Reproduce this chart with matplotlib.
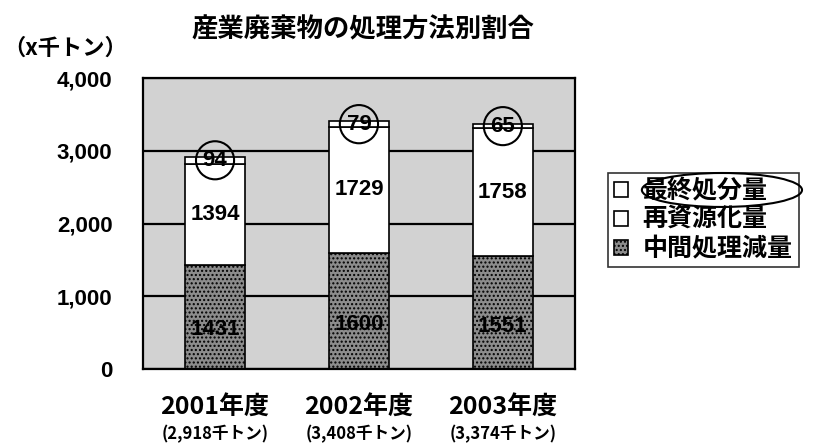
import matplotlib
matplotlib.use("Agg")
import matplotlib.pyplot as plt
from matplotlib.patches import Ellipse
import numpy as np

plt.rcParams['font.family'] = ['Noto Sans CJK JP', 'DejaVu Sans']
plt.rcParams['hatch.color'] = '#ffffff'

years = ['2001年度', '2002年度', '2003年度']
totals = ['(2,918千トン)', '(3,408千トン)', '(3,374千トン)']
chukan = [1431, 1600, 1551]      # 中間処理減量
shigen = [1394, 1729, 1758]      # 再資源化量
saishu = [94, 79, 65]            # 最終処分量
yticks = [0, 1000, 2000, 3000, 4000]
ytick_labels = ['0', '1,000', '2,000', '3,000', '4,000']

fig = plt.figure(figsize=(8.13, 4.47), dpi=100)
ax = fig.add_axes([0.176, 0.174, 0.531, 0.651])

x = np.arange(len(years))
w = 0.42
chukan = np.array(chukan)
shigen = np.array(shigen)
saishu = np.array(saishu)

ax.patch.set_facecolor('#d2d2d2')
ax.patch.set_hatch('....')
ax.set_axisbelow(True)
ax.yaxis.grid(True, color='black', linewidth=1.6)

b1 = ax.bar(x, chukan, w, color='#8c8c8c', edgecolor='black', linewidth=1.2,
            hatch='....', label='中間処理減量')
b2 = ax.bar(x, shigen, w, bottom=chukan, color='white', edgecolor='black',
            linewidth=1.2, label='再資源化量')
b3 = ax.bar(x, saishu, w, bottom=chukan + shigen, color='white', edgecolor='black',
            linewidth=1.2, label='最終処分量')

num_font = dict(fontsize=16, fontweight='bold', family=['Liberation Sans', 'DejaVu Sans'],
                ha='center', va='center', color='black')
for i in range(len(x)):
    ax.text(x[i], chukan[i] * 0.38, str(chukan[i]), **num_font)
    ax.text(x[i], chukan[i] + shigen[i] / 2, str(shigen[i]), **num_font)
    ax.text(x[i], chukan[i] + shigen[i] + saishu[i] / 2, str(saishu[i]),
            bbox=dict(boxstyle='circle,pad=0.3', fc='none', ec='black', lw=1.5),
            **num_font)

ax.set_xlim(-0.5, 2.5)
ax.set_ylim(0, 4000)
ax.set_yticks(yticks)
ax.set_yticklabels(ytick_labels, fontsize=16, fontweight='bold',
                   family=['Liberation Sans', 'DejaVu Sans'])
ax.tick_params(axis='y', length=0, pad=22)
ax.set_xticks(x)
ax.set_xticklabels([])
ax.tick_params(axis='x', length=0)
for s in ax.spines.values():
    s.set_linewidth(1.6)
    s.set_color('black')

for i in range(len(x)):
    ax.annotate(years[i], xy=(x[i], 0), xycoords=('data', 'axes fraction'),
                xytext=(0, -28), textcoords='offset points', ha='center', va='center',
                fontsize=18, fontweight='bold')
    ax.annotate(totals[i], xy=(x[i], 0), xycoords=('data', 'axes fraction'),
                xytext=(0, -47), textcoords='offset points', ha='center', va='center',
                fontsize=12, fontweight='bold')

fig.text(0.446, 0.933, '産業廃棄物の処理方法別割合', ha='center', va='center',
         fontsize=19, fontweight='bold')
fig.text(0.004, 0.893, '（x千トン）', ha='left', va='center', fontsize=16, fontweight='bold')

leg = ax.legend(handles=[b3, b2, b1], loc='center left', bbox_to_anchor=(1.076, 0.513),
                frameon=True, fancybox=False, prop=dict(size=18, weight='bold'),
                handlelength=0.55, handleheight=0.55, handletextpad=0.6,
                borderpad=0.25, labelspacing=0.2, borderaxespad=0)
leg.get_frame().set_edgecolor('black')
leg.get_frame().set_linewidth(1.2)

fig.add_artist(Ellipse((0.888, 0.575), 0.197, 0.076, transform=fig.transFigure,
                       fill=False, ec='black', lw=1.5, zorder=10))

fig.savefig('out.png', dpi=100)
